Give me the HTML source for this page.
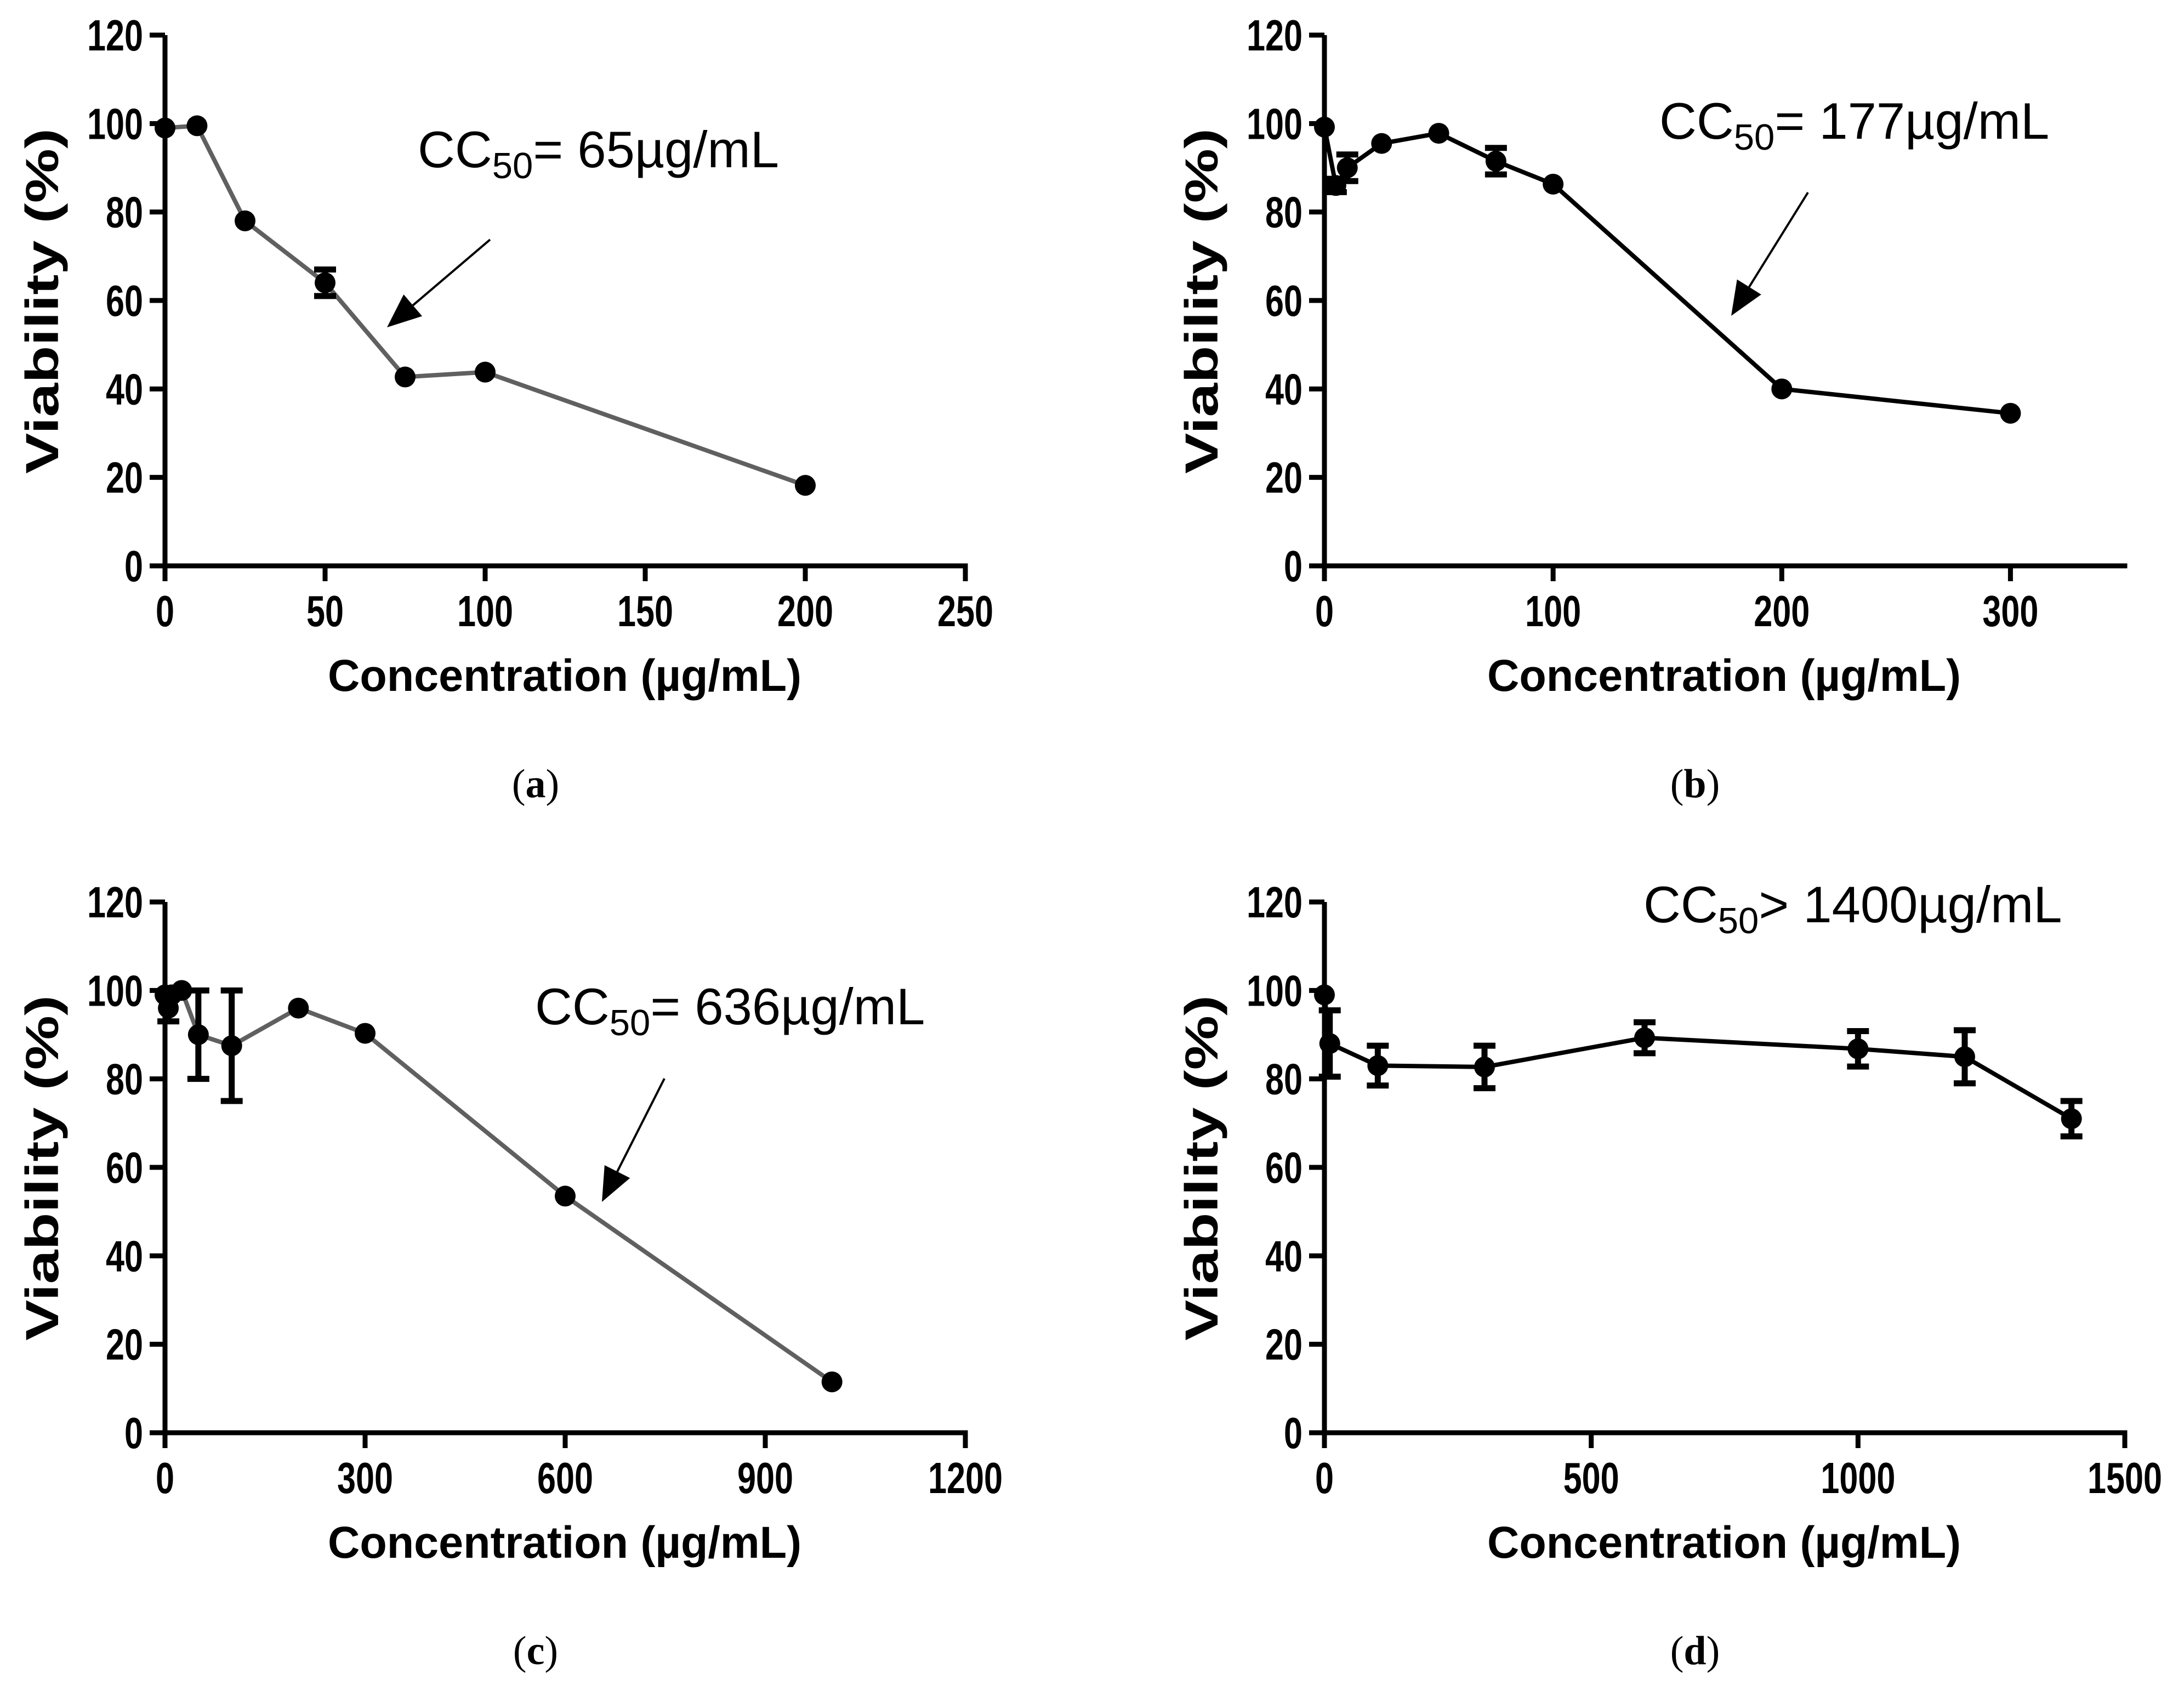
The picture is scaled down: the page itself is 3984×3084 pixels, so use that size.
<!DOCTYPE html>
<html><head><meta charset="utf-8"><style>
html,body{margin:0;padding:0;background:#fff;}
svg{display:block;}
</style></head><body>
<svg id="fig" xmlns="http://www.w3.org/2000/svg" width="3984" height="3084" viewBox="0 0 3984 3084">
<rect width="3984" height="3084" fill="#fff"/>
</svg>
<script>
// Panel (a)
const aX = [0, 10, 25, 50, 75, 100, 200];
const aY = [99, 99.5, 78, 64, 42.7, 43.8, 18.2];
const aErr = [0, 0, 0, 3, 0, 0, 0];
const aXTicks = [0, 50, 100, 150, 200, 250];
// Panel (b)
const bX = [0, 5, 10, 25, 50, 75, 100, 200, 300];
const bY = [99.2, 86, 90, 95.5, 97.8, 91.5, 86.3, 40, 34.5];
const bErr = [0, 1.5, 3, 0, 0, 3, 0, 0, 0];
const bXTicks = [0, 100, 200, 300];
// Panel (c)
const cX = [0, 5, 10, 25, 50, 100, 200, 300, 600, 1000];
const cY = [99, 96, 99, 100, 90, 87.5, 96, 90.3, 53.5, 11.5];
const cErr = [0, 3, 0, 0, 10, 12.5, 0, 0, 0, 0];
const cXTicks = [0, 300, 600, 900, 1200];
// Panel (d)
const dX = [0, 10, 100, 300, 600, 1000, 1200, 1400];
const dY = [99, 88, 83, 82.7, 89.3, 86.8, 85, 71];
const dErr = [0, 7.5, 4.5, 4.8, 3.5, 4, 6, 4];
const dXTicks = [0, 500, 1000, 1500];
const yTicks = [0, 20, 40, 60, 80, 100, 120];

const NS = 'http://www.w3.org/2000/svg';
const svg = document.getElementById('fig');
function mk(tag, attrs, parent) {
  const e = document.createElementNS(NS, tag);
  for (const k in attrs) e.setAttribute(k, attrs[k]);
  (parent || svg).appendChild(e);
  return e;
}
const BOLD = '"Liberation Sans", Arial, sans-serif';

function panel(cfg) {
  const g = mk('g', {});
  
  
  const ox = cfg.ox, oy = cfg.oy, W = 1460, H = 968;
  const xs = v => ox + v / cfg.xmax * W;
  const ys = v => oy - v / 120 * H;
  const ya = mk('line', {x1: ox, y1: ys(120), x2: ox, y2: oy + 4.5, stroke: '#000', 'stroke-width': 9}, g);
  
  
  const xa = mk('line', {x1: ox - 4.5, y1: oy, x2: ox + W + 4.5, y2: oy, stroke: '#000', 'stroke-width': 9}, g);
  
  
  yTicks.forEach(t => {
    mk('line', {x1: ox - 28, y1: ys(t), x2: ox, y2: ys(t), stroke: '#000', 'stroke-width': 9}, g);
    const s = String(t);
    const tx = mk('text', {x: ox - 40, y: ys(t) + 28, 'text-anchor': 'end', 'font-family': BOLD, 'font-weight': 'bold', 'font-size': 80, textLength: s.length * 34, lengthAdjust: 'spacingAndGlyphs'}, g);
    tx.textContent = s;
    
    
  });
  cfg.xticks.forEach(t => {
    mk('line', {x1: xs(t), y1: oy, x2: xs(t), y2: oy + 28, stroke: '#000', 'stroke-width': 9}, g);
    const s = String(t);
    const tx = mk('text', {x: xs(t), y: oy + 110, 'text-anchor': 'middle', 'font-family': BOLD, 'font-weight': 'bold', 'font-size': 80, textLength: s.length * 34, lengthAdjust: 'spacingAndGlyphs'}, g);
    tx.textContent = s;
    
    
  });
  const xt = mk('text', {x: ox + 729, y: oy + 228, 'text-anchor': 'middle', 'font-family': BOLD, 'font-weight': 'bold', 'font-size': 82, textLength: 864, lengthAdjust: 'spacingAndGlyphs'}, g);
  xt.textContent = 'Concentration (\u00b5g/mL)';
  
  
  const cy = oy - 483;
  const yt = mk('text', {x: ox - 224, y: cy, 'text-anchor': 'middle', 'font-family': BOLD, 'font-weight': 'bold', 'font-size': 84, textLength: 630, lengthAdjust: 'spacingAndGlyphs', transform: `rotate(-90 ${ox - 224} ${cy})`, 'dominant-baseline': 'central'}, g);
  yt.textContent = 'Viability (%)';
  
  
  const pts = cfg.x.map((v, i) => xs(v) + ',' + ys(cfg.y[i])).join(' ');
  const pl = mk('polyline', {points: pts, fill: 'none', stroke: cfg.color, 'stroke-width': cfg.lw, 'stroke-linejoin': 'round'}, g);
  
  
  cfg.x.forEach((v, i) => {
    const e = cfg.err[i];
    if (!e) return;
    const eg = mk('g', {stroke: '#000', 'stroke-width': 11}, g);
    
    
    const x = xs(v), y1 = ys(cfg.y[i] + e), y2 = ys(cfg.y[i] - e);
    mk('line', {x1: x, y1: y1, x2: x, y2: y2}, eg);
    mk('line', {x1: x - 20, y1: y1, x2: x + 20, y2: y1}, eg);
    mk('line', {x1: x - 20, y1: y2, x2: x + 20, y2: y2}, eg);
  });
  cfg.x.forEach((v, i) => {
    const c = mk('circle', {cx: xs(v), cy: ys(cfg.y[i]), r: 19, fill: '#000'}, g);
    
    
  });
  const an = mk('text', {x: cfg.tx, y: cfg.ty, 'font-family': '"Liberation Sans", Arial, sans-serif', 'font-size': 94}, g);
  
  
  const t1 = mk('tspan', {}, an); t1.textContent = 'CC';
  const t2 = mk('tspan', {'font-size': 67, dy: 20}, an); t2.textContent = '50';
  const t3 = mk('tspan', {dy: -20}, an); t3.textContent = cfg.label;
  if (cfg.arrow) {
    const [x1, y1, x2, y2] = cfg.arrow;
    const ag = mk('g', {}, g);
    
    
    const ang = Math.atan2(y2 - y1, x2 - x1), L = 62, Wd = 26;
    const bx = x2 - L * Math.cos(ang), by = y2 - L * Math.sin(ang);
    mk('line', {x1: x1, y1: y1, x2: bx, y2: by, stroke: '#000', 'stroke-width': 4}, ag);
    const px = -Math.sin(ang) * Wd, py = Math.cos(ang) * Wd;
    mk('polygon', {points: `${x2},${y2} ${bx + px},${by + py} ${bx - px},${by - py}`, fill: '#000'}, ag);
  }
  const cap = mk('text', {x: ox + 676, y: oy + 422, 'text-anchor': 'middle', 'font-family': '"Liberation Serif", serif', 'font-size': 74}, g);
  
  
  const c1 = mk('tspan', {}, cap); c1.textContent = '(';
  const c2 = mk('tspan', {'font-weight': 'bold'}, cap); c2.textContent = cfg.letter;
  const c3 = mk('tspan', {}, cap); c3.textContent = ')';
}

panel({name: 'panel-a', ox: 301, oy: 1032, xmax: 250, xticks: aXTicks, x: aX, y: aY, err: aErr, color: '#606060', lw: 8,
  tx: 762, ty: 305, label: '= 65\u00b5g/mL', arrow: [894, 437, 706, 597], letter: 'a'});
panel({name: 'panel-b', ox: 2416, oy: 1032, xmax: 350, xticks: bXTicks, x: bX, y: bY, err: bErr, color: '#000', lw: 8,
  tx: 3027, ty: 253, label: '= 177\u00b5g/mL', arrow: [3298, 351, 3158, 576], letter: 'b'});
panel({name: 'panel-c', ox: 301, oy: 2613, xmax: 1200, xticks: cXTicks, x: cX, y: cY, err: cErr, color: '#606060', lw: 8,
  tx: 976, ty: 1868, label: '= 636\u00b5g/mL', arrow: [1212, 1967, 1098, 2192], letter: 'c'});
panel({name: 'panel-d', ox: 2416, oy: 2613, xmax: 1500, xticks: dXTicks, x: dX, y: dY, err: dErr, color: '#000', lw: 8,
  tx: 2998, ty: 1682, label: '> 1400\u00b5g/mL', arrow: null, letter: 'd'});
</script>
</body></html>
